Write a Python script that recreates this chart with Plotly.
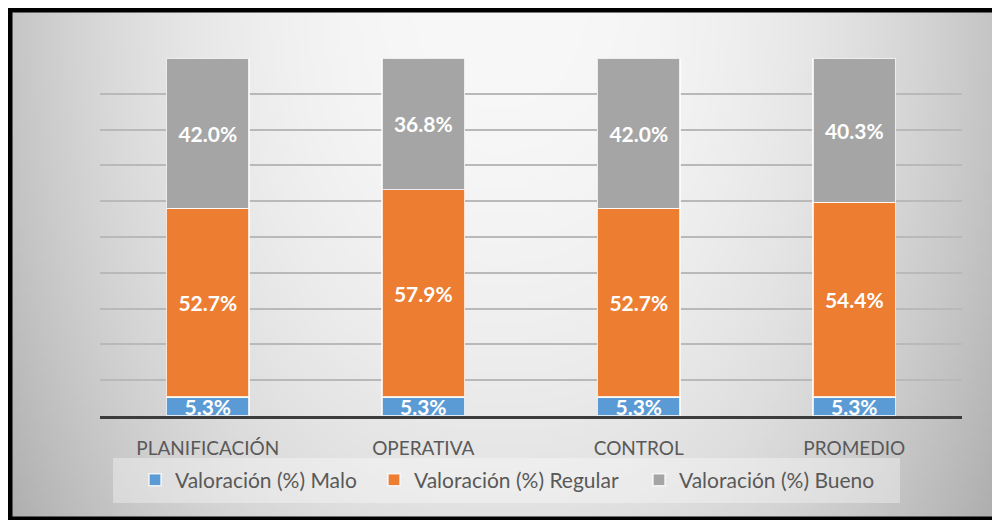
import base64
import struct
import zlib

import numpy as np
import plotly.graph_objects as go

# ---- data -------------------------------------------------------------
categories = ["PLANIFICACIÓN", "OPERATIVA", "CONTROL", "PROMEDIO"]
malo = [5.3, 5.3, 5.3, 5.3]
regular = [52.7, 57.9, 52.7, 54.4]
bueno = [42.0, 36.8, 42.0, 40.3]
series_names = ["Valoración (%) Malo", "Valoración (%) Regular", "Valoración (%) Bueno"]
series_colors = ["#5B9BD5", "#ED7D31", "#A5A5A5"]
legend_widths = [194, 220, 207]

# figure size (page has an 8px body margin, so 992x512 fills a 1000x520 window)
OFF = 8
W, H = 992, 512


def fx(p):
    """page pixel x -> paper fraction"""
    return (p - OFF) / W


def fy(p):
    """page pixel y -> paper fraction"""
    return 1 - (p - OFF) / H


# ---- background gradient image (decoration) ---------------------------
def gradient_png(w, h):
    xs = np.linspace(OFF, OFF + W, w)
    ys = np.linspace(OFF, OFF + H, h)
    X, Y = np.meshgrid(xs, ys)
    dx = np.abs(X - 500) / 490.0
    dy = Y / 510.0
    b = 248 - 50 * dx ** 2.3 - 22 * dy ** 2
    b = np.clip(b, 0, 255).astype(np.uint8)
    raw = b"".join(b"\x00" + row.tobytes() for row in b)

    def chunk(tag, data):
        c = struct.pack(">I", len(data)) + tag + data
        return c + struct.pack(">I", zlib.crc32(tag + data) & 0xFFFFFFFF)

    png = b"\x89PNG\r\n\x1a\n"
    png += chunk(b"IHDR", struct.pack(">IIBBBBB", w, h, 8, 0, 0, 0, 0))
    png += chunk(b"IDAT", zlib.compress(raw, 9))
    png += chunk(b"IEND", b"")
    return "data:image/png;base64," + base64.b64encode(png).decode()


FONT = "Lato"

fig = go.Figure()
for name, vals, col, lw in zip(series_names, [malo, regular, bueno], series_colors, legend_widths):
    fig.add_trace(
        go.Bar(
            name=name,
            x=categories,
            y=vals,
            marker=dict(color=col, line=dict(color="rgba(255,255,255,0.8)", width=1.5)),
            texttemplate="%{y:.1f}%",
            textposition="inside",
            insidetextanchor="middle",
            textangle=0,
            constraintext="none",
            textfont=dict(family=FONT, size=21, color="white", weight="bold"),
            legendwidth=lw,
            hoverinfo="skip",
        )
    )

fig.update_layout(
    width=W,
    height=H,
    margin=dict(l=0, r=0, t=0, b=0),
    barmode="stack",
    bargap=0.615,
    paper_bgcolor="white",
    plot_bgcolor="rgba(0,0,0,0)",
    font=dict(family=FONT, color="#595959"),
    xaxis=dict(
        domain=[fx(100), fx(962)],
        showline=True,
        linecolor="#3c3c3c",
        linewidth=3,
        showgrid=False,
        ticks="",
        tickfont=dict(family=FONT, size=19, color="#595959"),
        ticklabelstandoff=13,
        automargin=False,
    ),
    yaxis=dict(
        domain=[fy(416), fy(58)],
        range=[0, 100],
        dtick=10,
        showticklabels=False,
        showgrid=True,
        gridcolor="#b9b9b9",
        gridwidth=2,
        zeroline=False,
        automargin=False,
    ),
    legend=dict(
        orientation="h",
        traceorder="normal",
        x=fx(135),
        xanchor="left",
        y=fy(480),
        yanchor="middle",
        bgcolor="rgba(0,0,0,0)",
        font=dict(family=FONT, size=21, color="#595959"),
        itemclick=False,
    ),
    images=[
        dict(
            source=gradient_png(248, 128),
            xref="paper",
            yref="paper",
            x=0,
            y=1,
            sizex=1,
            sizey=1,
            sizing="stretch",
            layer="below",
        )
    ],
    shapes=[
        # legend backdrop
        dict(
            type="rect",
            xref="paper",
            yref="paper",
            x0=fx(113),
            x1=fx(900),
            y0=fy(503),
            y1=fy(458),
            fillcolor="rgba(255,255,255,0.35)",
            line=dict(width=0),
            layer="below",
        ),
        # black frame
        dict(
            type="rect",
            xref="paper",
            yref="paper",
            x0=fx(10),
            x1=fx(1004),
            y0=fy(519),
            y1=fy(10),
            line=dict(color="black", width=5),
            fillcolor="rgba(0,0,0,0)",
            layer="above",
        ),
    ],
)

fig.write_html("out.html")
